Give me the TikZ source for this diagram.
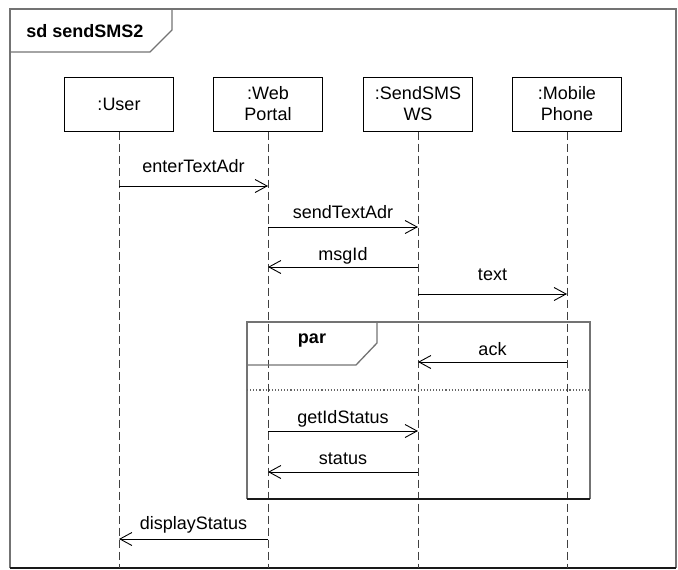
\documentclass[tikz,border=0pt]{standalone}
\usepackage{fontspec}
\setmainfont{Liberation Sans}
\usetikzlibrary{arrows.meta}

\begin{document}
\begin{tikzpicture}[x=1pt,y=-1pt,
  every path/.style={>={Straight Barb[length=12pt,width=13pt]}},
  font=\fontsize{18}{21}\selectfont,
  head/.style={draw,rectangle,minimum width=109pt,minimum height=54pt,align=center,line width=1pt},
  lbl/.style={anchor=base,inner sep=0pt},
  life/.style={dash pattern=on 8pt off 4pt,line width=0.9pt,draw=black!75},
  msg/.style={->,line width=0.9pt},
  frm/.style={draw=black!55,line width=1.3pt},
  btm/.style={draw=black!90,line width=1.8pt}]
\useasboundingbox (0,0) rectangle (678,570);
% outer frame
\draw[frm] (10,568) -- (10,9) -- (676,9) -- (676,568);
\draw[btm] (10,568) -- (676,568);
\draw[frm] (10,52) -- (150,52) -- (172,30) -- (172,9);
\node[inner sep=0pt] (title) at (85,31) {\bfseries sd sendSMS2};
% lifelines
\node[head] (user)   at (119,104) {:User};
\node[head] (portal) at (268,104) {:Web\\Portal};
\node[head] (ws)     at (418,104) {:SendSMS\\WS};
\node[head] (phone)  at (567,104) {:Mobile\\Phone};
\coordinate (bottom) at (0,568);
\draw[life] (user)   -- (user |- bottom);
\draw[life] (portal) -- (portal |- bottom);
\draw[life] (ws)     -- (ws |- bottom);
\draw[life] (phone)  -- (phone |- bottom);
% par fragment
\draw[frm] (247,499) -- (247,322) -- (590,322) -- (590,499);
\draw[btm] (247,499) -- (590,499);
\draw[frm] (247,365) -- (356,365) -- (377,343) -- (377,322);
\node[inner sep=0pt] (par) at (312,341) {\bfseries par};
\draw[draw=black!60,dotted,line width=1.1pt] (247,390) -- (590,390);
% messages
\coordinate (m1) at (0,186);
\coordinate (m2) at (0,227);
\coordinate (m3) at (0,267);
\coordinate (m4) at (0,294);
\coordinate (m5) at (0,362);
\coordinate (m6) at (0,431);
\coordinate (m7) at (0,472);
\coordinate (m8) at (0,539);
\draw[msg] (user |- m1)   -- node[lbl,yshift=14pt] {enterTextAdr}  (portal |- m1);
\draw[msg] (portal |- m2) -- node[lbl,yshift=9pt]  {sendTextAdr}   (ws |- m2);
\draw[msg] (ws |- m3)     -- node[lbl,yshift=7pt]  {msgId}         (portal |- m3);
\draw[msg] (ws |- m4)     -- node[lbl,yshift=14pt] {text}          (phone |- m4);
\draw[msg] (phone |- m5)  -- node[lbl,yshift=7pt]  {ack}           (ws |- m5);
\draw[msg] (portal |- m6) -- node[lbl,yshift=8pt]  {getIdStatus}   (ws |- m6);
\draw[msg] (ws |- m7)     -- node[lbl,yshift=8pt]  {status}        (portal |- m7);
\draw[msg] (portal |- m8) -- node[lbl,yshift=10pt] {displayStatus} (user |- m8);
\end{tikzpicture}
\end{document}
